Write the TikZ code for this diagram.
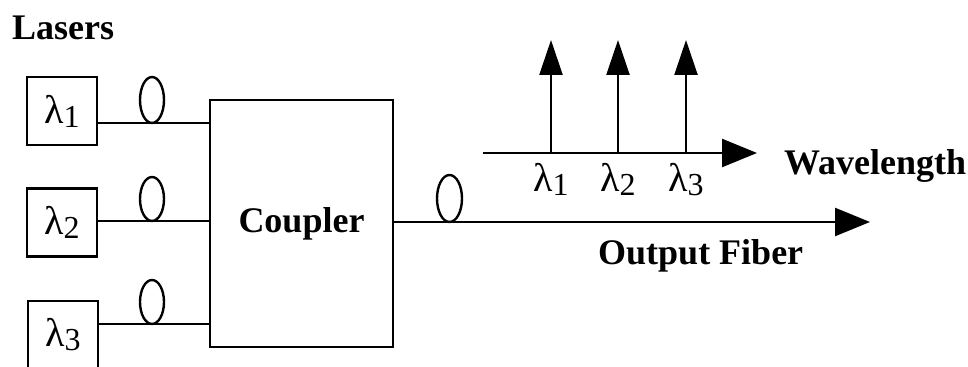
\documentclass[tikz,border=0pt]{standalone}
\usepackage{fontspec}
\setmainfont{Liberation Serif}
\usetikzlibrary{arrows.meta,positioning}
\newcommand{\lam}[1]{{\fontsize{20}{22}\selectfont λ\raisebox{-2pt}{\fontsize{16}{18}\selectfont #1}}}

\begin{document}
\begin{tikzpicture}[x=0.5pt,y=-0.5pt,line width=1.2pt,
  laser/.style={draw, minimum width=35pt, minimum height=34pt, inner sep=0pt},
  coupler/.style={draw, minimum width=91.5pt, minimum height=123.5pt, font=\fontsize{18}{20}\selectfont\bfseries},
  lbl/.style={font=\fontsize{18}{20}\selectfont\bfseries, inner sep=0pt},
  big/.style={-{Triangle[length=17.5pt,width=14pt]}},
  spike/.style={-{Triangle[length=17.5pt,width=11.5pt]}}]
\useasboundingbox (0,0) rectangle (968,367);

\node[lbl, anchor=base west] (lasers) at (11,40) {Lasers};

\node[laser] (l1) at (62,111) {\lam{1}};
\node[laser] (l2) at (62,222.5) {\lam{2}};
\node[laser] (l3) at (63,335) {\lam{3}};

\node[coupler] (cp) at (301.5,223.5) {Coupler};

% fibres into the coupler
\coordinate (in1) at (210,123);
\coordinate (in2) at (210,221);
\coordinate (in3) at (210,324);
\draw (l1.east |- in1) -- (in1);
\draw (l2.east |- in2) -- (in2);
\draw (l3.east |- in3) -- (in3);
\draw (152,100) ellipse [x radius=6pt, y radius=11.5pt];
\draw (152,199) ellipse [x radius=6pt, y radius=11pt];
\draw (152,302) ellipse [x radius=6pt, y radius=11pt];

% output fibre
\coordinate (tip) at (870,222);
\draw[big] (cp.east |- tip) -- (tip);
\draw (449.5,198.5) ellipse [x radius=6.25pt, y radius=11.75pt];
\node[lbl, anchor=base west] (fib) at (597,265) {Output Fiber};

% spectrum
\coordinate (ax0) at (483,153);
\coordinate (ax1) at (757,153);
\draw[big] (ax0) -- (ax1);
\node[lbl, anchor=base west] (wl) at (783,175) {Wavelength};
\foreach \i/\x in {1/551,2/618,3/686} {
  \coordinate (s\i) at (\x,153);
  \coordinate (t\i) at (\x,40);
  \draw[spike] (s\i) -- (t\i);
  \node[below=1pt of s\i] (k\i) {\lam{\i}};
}

\end{tikzpicture}
\end{document}
